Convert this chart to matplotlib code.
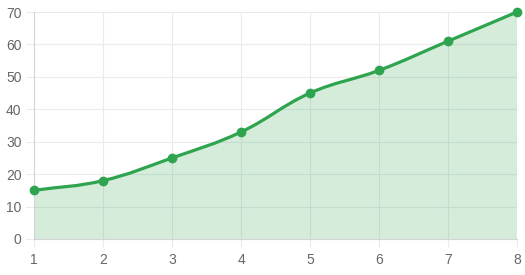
import numpy as np
import matplotlib
matplotlib.use('Agg')
import matplotlib.pyplot as plt
from matplotlib.path import Path
from matplotlib.patches import PathPatch

x_vals = [1, 2, 3, 4, 5, 6, 7, 8]
y_vals = [15, 18, 25, 33, 45, 52, 61, 70]
y_ticks = [0, 10, 20, 30, 40, 50, 60, 70]

green = '#2ea44f'
fill = (46/255, 164/255, 79/255, 0.2)
tension = 0.4

fig = plt.figure(figsize=(5.25, 2.75), dpi=100)
ax = fig.add_axes([34/525, 36/275, 483/525, 227/275])
ax.set_xlim(1, 8)
ax.set_ylim(0, 70)

# chart.js style spline, control points worked out in pixel space
sx = 483 / 7.0
sy = 227 / 70.0
px = np.array(x_vals) * sx
py = np.array(y_vals) * sy
n = len(px)
cps = []
for i in range(n):
    p0 = (px[max(i-1, 0)], py[max(i-1, 0)])
    p1 = (px[i], py[i])
    p2 = (px[min(i+1, n-1)], py[min(i+1, n-1)])
    d01 = np.hypot(p1[0]-p0[0], p1[1]-p0[1])
    d12 = np.hypot(p2[0]-p1[0], p2[1]-p1[1])
    s01 = d01 / (d01 + d12) if d01 + d12 else 0
    s12 = d12 / (d01 + d12) if d01 + d12 else 0
    fa = tension * s01
    fb = tension * s12
    prev_cp = (p1[0] - fa*(p2[0]-p0[0]), p1[1] - fa*(p2[1]-p0[1]))
    next_cp = (p1[0] + fb*(p2[0]-p0[0]), p1[1] + fb*(p2[1]-p0[1]))
    cps.append((prev_cp, next_cp))

verts = [(px[0]/sx, py[0]/sy)]
codes = [Path.MOVETO]
for i in range(n-1):
    c1 = cps[i][1]
    c2 = cps[i+1][0]
    verts += [(c1[0]/sx, c1[1]/sy), (c2[0]/sx, c2[1]/sy), (px[i+1]/sx, py[i+1]/sy)]
    codes += [Path.CURVE4]*3

fill_verts = verts + [(x_vals[-1], 0), (x_vals[0], 0), verts[0]]
fill_codes = codes + [Path.LINETO, Path.LINETO, Path.CLOSEPOLY]
ax.add_patch(PathPatch(Path(fill_verts, fill_codes), facecolor=fill, edgecolor='none', zorder=1))
ax.add_patch(PathPatch(Path(verts, codes), facecolor='none', edgecolor=green, lw=2.3, zorder=3,
                       capstyle='round', joinstyle='round', clip_on=False))
ax.plot(x_vals, y_vals, 'o', color=green, markersize=6, zorder=4, clip_on=False)

ax.set_xticks(x_vals)
ax.set_yticks(y_ticks)
ax.grid(True, color='#ebebeb', lw=0.8)
ax.set_axisbelow(True)
for s in ['top', 'right']:
    ax.spines[s].set_visible(False)
for s in ['left', 'bottom']:
    ax.spines[s].set_color('#d4d4d4')
    ax.spines[s].set_linewidth(0.8)
ax.tick_params(axis='both', colors='#ebebeb', labelcolor='#666666', labelsize=10, length=6, width=0.8)
ax.tick_params(axis='x', pad=4)
ax.tick_params(axis='y', pad=3)
for lab in ax.get_xticklabels() + ax.get_yticklabels():
    lab.set_fontfamily('Liberation Sans')

fig.savefig('out.png', dpi=100)
